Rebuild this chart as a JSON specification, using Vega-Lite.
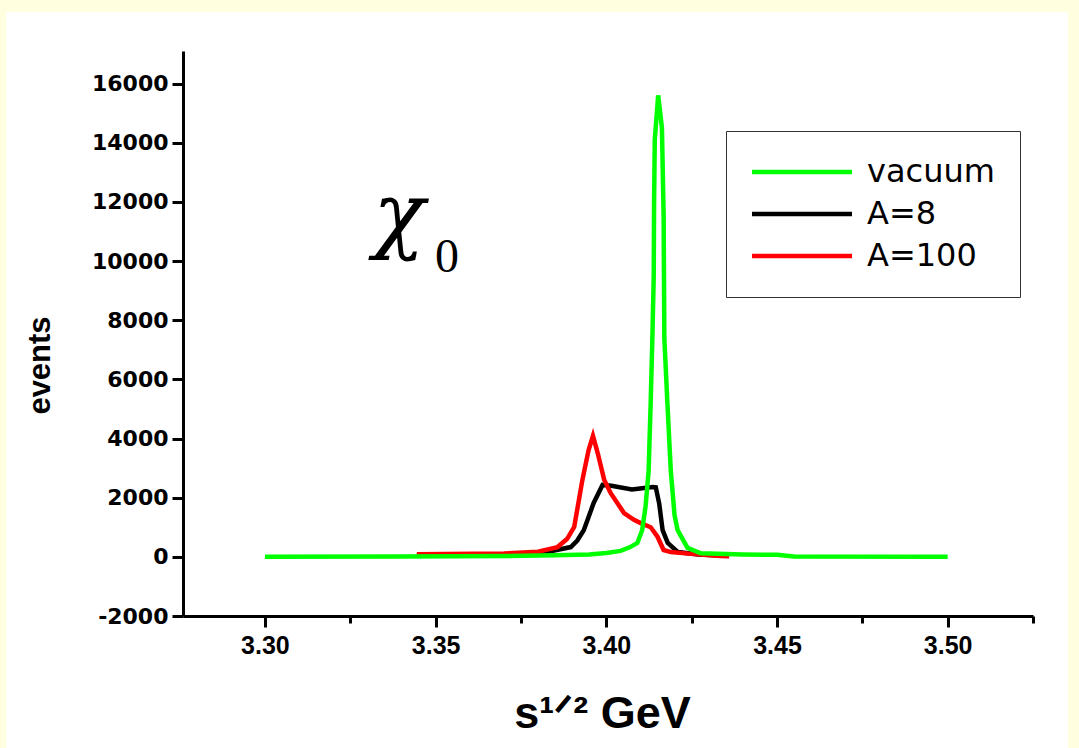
{
  "$schema": "https://vega.github.io/schema/vega-lite/v6.json",
  "width": 850,
  "height": 565,
  "autosize": {"type": "none"},
  "padding": {"left": 183, "top": 51, "right": 46, "bottom": 132},
  "background": "#FFFFE0",
  "config": {"view": {"stroke": null}, "font": "Liberation Sans"},
  "datasets": {
    "curves": [
      {"x": 3.3445, "y": 40, "s": "A=8"}, {"x": 3.37, "y": 50, "s": "A=8"}, {"x": 3.3808, "y": 120, "s": "A=8"},
      {"x": 3.3896, "y": 330, "s": "A=8"}, {"x": 3.3915, "y": 550, "s": "A=8"}, {"x": 3.3934, "y": 900, "s": "A=8"},
      {"x": 3.3963, "y": 1820, "s": "A=8"}, {"x": 3.3989, "y": 2430, "s": "A=8"}, {"x": 3.4015, "y": 2400, "s": "A=8"},
      {"x": 3.4075, "y": 2280, "s": "A=8"}, {"x": 3.4135, "y": 2360, "s": "A=8"}, {"x": 3.4145, "y": 2350, "s": "A=8"},
      {"x": 3.4155, "y": 1800, "s": "A=8"}, {"x": 3.4165, "y": 900, "s": "A=8"}, {"x": 3.418, "y": 470, "s": "A=8"},
      {"x": 3.421, "y": 160, "s": "A=8"}, {"x": 3.427, "y": 80, "s": "A=8"}, {"x": 3.435, "y": 40, "s": "A=8"},

      {"x": 3.3445, "y": 90, "s": "A=100"}, {"x": 3.37, "y": 110, "s": "A=100"}, {"x": 3.38, "y": 170, "s": "A=100"},
      {"x": 3.3857, "y": 330, "s": "A=100"}, {"x": 3.3885, "y": 600, "s": "A=100"}, {"x": 3.3906, "y": 1010, "s": "A=100"},
      {"x": 3.393, "y": 2600, "s": "A=100"}, {"x": 3.3948, "y": 3600, "s": "A=100"}, {"x": 3.3961, "y": 4090, "s": "A=100"},
      {"x": 3.3975, "y": 3500, "s": "A=100"}, {"x": 3.3994, "y": 2600, "s": "A=100"}, {"x": 3.4013, "y": 2150, "s": "A=100"},
      {"x": 3.4052, "y": 1480, "s": "A=100"}, {"x": 3.4081, "y": 1250, "s": "A=100"}, {"x": 3.4101, "y": 1140, "s": "A=100"},
      {"x": 3.413, "y": 1000, "s": "A=100"}, {"x": 3.415, "y": 680, "s": "A=100"}, {"x": 3.4168, "y": 230, "s": "A=100"},
      {"x": 3.4189, "y": 160, "s": "A=100"}, {"x": 3.4248, "y": 100, "s": "A=100"}, {"x": 3.4335, "y": 30, "s": "A=100"},
      {"x": 3.436, "y": 20, "s": "A=100"},

      {"x": 3.30, "y": 5, "s": "vacuum"}, {"x": 3.34, "y": 15, "s": "vacuum"}, {"x": 3.37, "y": 30, "s": "vacuum"},
      {"x": 3.385, "y": 50, "s": "vacuum"}, {"x": 3.395, "y": 80, "s": "vacuum"}, {"x": 3.40, "y": 130, "s": "vacuum"},
      {"x": 3.4042, "y": 200, "s": "vacuum"}, {"x": 3.407, "y": 330, "s": "vacuum"}, {"x": 3.4091, "y": 470, "s": "vacuum"},
      {"x": 3.4105, "y": 900, "s": "vacuum"}, {"x": 3.4115, "y": 1700, "s": "vacuum"}, {"x": 3.4124, "y": 2900, "s": "vacuum"},
      {"x": 3.413, "y": 5200, "s": "vacuum"}, {"x": 3.4135, "y": 7400, "s": "vacuum"}, {"x": 3.4139, "y": 9500, "s": "vacuum"},
      {"x": 3.414, "y": 12000, "s": "vacuum"}, {"x": 3.4142, "y": 14100, "s": "vacuum"}, {"x": 3.4152, "y": 15600, "s": "vacuum"},
      {"x": 3.4158, "y": 15000, "s": "vacuum"}, {"x": 3.4163, "y": 14500, "s": "vacuum"}, {"x": 3.4168, "y": 11500, "s": "vacuum"},
      {"x": 3.417, "y": 7400, "s": "vacuum"}, {"x": 3.4179, "y": 5200, "s": "vacuum"}, {"x": 3.4189, "y": 2900, "s": "vacuum"},
      {"x": 3.42, "y": 1400, "s": "vacuum"}, {"x": 3.4209, "y": 900, "s": "vacuum"}, {"x": 3.4238, "y": 300, "s": "vacuum"},
      {"x": 3.4277, "y": 120, "s": "vacuum"}, {"x": 3.44, "y": 80, "s": "vacuum"}, {"x": 3.45, "y": 70, "s": "vacuum"},
      {"x": 3.455, "y": 15, "s": "vacuum"}, {"x": 3.5, "y": 5, "s": "vacuum"}
    ]
  },
  "layer": [
    {
      "data": {"values": [{}]},
      "mark": {"type": "rect", "fill": "white", "clip": false},
      "encoding": {
        "x": {"datum": 3.2242, "type": "quantitative"},
        "x2": {"datum": 3.5352},
        "y": {"datum": 18418, "type": "quantitative"},
        "y2": {"datum": -6464}
      }
    },
    {
      "data": {"name": "curves"},
      "mark": {"type": "line", "strokeWidth": 4.5, "clip": true},
      "encoding": {
        "x": {
          "field": "x", "type": "quantitative",
          "scale": {"domain": [3.276, 3.525], "nice": false, "zero": false},
          "axis": {
            "values": [3.3, 3.325, 3.35, 3.375, 3.4, 3.425, 3.45, 3.475, 3.5, 3.525],
            "labelExpr": "round(datum.value*1000) % 50 == 0 ? format(datum.value, '.2f') : ''",
            "tickSize": {"condition": {"test": "round(datum.value*1000) % 50 != 0", "value": 7}, "value": 11},
            "labelFont": "Liberation Sans", "labelFontWeight": "bold", "labelFontSize": 25, "labelColor": "black",
            "labelPadding": 6, "labelOverlap": false, "labelFlush": false,
            "domainColor": "black", "domainWidth": 3, "tickColor": "black", "tickWidth": 3, "grid": false,
            "title": "s¹ᐟ² GeV", "titleFont": "Liberation Sans", "titleFontSize": 45, "titleFontWeight": "bold", "titleColor": "black",
            "titleX": 419, "titleY": 97, "titleBaseline": "middle", "titleAlign": "center", "zindex": 1
          }
        },
        "y": {
          "field": "y", "type": "quantitative",
          "scale": {"domain": [-2000, 17100], "nice": false, "zero": false},
          "axis": {
            "values": [-2000, -1000, 0, 1000, 2000, 3000, 4000, 5000, 6000, 7000, 8000, 9000, 10000, 11000, 12000, 13000, 14000, 15000, 16000, 17000],
            "labelExpr": "datum.value % 2000 == 0 ? '' + datum.value : ''",
            "tickSize": {"condition": {"test": "datum.value % 2000 != 0", "value": 6}, "value": 11},
            "labelFont": "DejaVu Sans", "labelFontWeight": "bold", "labelFontSize": 22, "labelColor": "black",
            "labelPadding": 4, "labelOverlap": false, "labelFlush": false,
            "domainColor": "black", "domainWidth": 3, "tickColor": "black", "tickWidth": 3, "grid": false,
            "title": "events", "titleFont": "Liberation Sans", "titleFontSize": 31, "titleFontWeight": "bold", "titleColor": "black",
            "titleX": -143, "titleY": 314, "titleBaseline": "middle", "titleAlign": "center", "titleAngle": -90, "zindex": 1
          }
        },
        "color": {
          "field": "s", "type": "nominal",
          "scale": {"domain": ["vacuum", "A=8", "A=100"], "range": ["#00ff00", "#000000", "#ff0000"]},
          "legend": {
            "title": null, "orient": "none", "legendX": 543, "legendY": 80,
            "padding": 25, "strokeColor": "#333333", "fillColor": "white",
            "symbolType": "M-5,0H5", "symbolSize": 400, "symbolStrokeWidth": 4.5, "symbolOffset": 35,
            "labelOffset": 49, "labelFont": "DejaVu Sans", "labelFontSize": 32, "labelColor": "black", "labelLimit": 400,
            "rowPadding": 10, "zindex": 1
          }
        }
      }
    },
    {
      "data": {"values": [{}]},
      "mark": {"type": "text", "text": "χ", "font": "DejaVu Serif", "fontStyle": "italic", "fontSize": 85, "align": "left", "baseline": "alphabetic", "color": "black", "clip": false},
      "encoding": {
        "x": {"datum": 3.3317, "type": "quantitative"},
        "y": {"datum": 10640, "type": "quantitative"}
      }
    },
    {
      "data": {"values": [{}]},
      "mark": {"type": "text", "text": "0", "font": "Liberation Serif", "fontSize": 48, "align": "left", "baseline": "alphabetic", "color": "black", "clip": false},
      "encoding": {
        "x": {"datum": 3.3498, "type": "quantitative"},
        "y": {"datum": 9630, "type": "quantitative"}
      }
    }
  ]
}
